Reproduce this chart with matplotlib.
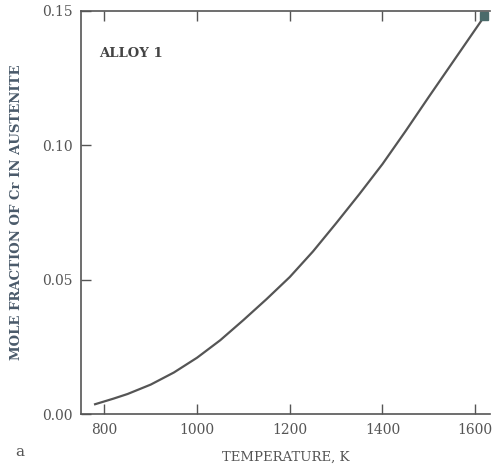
import numpy as np
import matplotlib.pyplot as plt

temp = [780, 820, 850, 900, 950, 1000, 1050, 1100, 1150, 1200, 1250, 1300,
        1350, 1400, 1450, 1500, 1560, 1620]
x_cr = [0.0037, 0.0058, 0.0075, 0.011, 0.0155, 0.021, 0.0275, 0.035, 0.0428,
        0.051, 0.0605, 0.071, 0.0818, 0.093, 0.1053, 0.118, 0.133, 0.148]
end_t = [1620]
end_x = [0.148]

xticks = [800, 1000, 1200, 1400, 1600]
yticks = [0.00, 0.05, 0.10, 0.15]

ink = '#555555'
plt.rcParams['font.family'] = ['DejaVu Serif']

fig = plt.figure(figsize=(4.92, 4.68), dpi=100)
ax = fig.add_axes([0.165, 0.115, 0.831, 0.862])

ax.plot(temp, x_cr, color=ink, lw=1.6)
ax.plot(end_t, end_x, 's', color='#4a6a6a', ms=6)

ax.set_xlim(750, 1632)
ax.set_ylim(0, 0.15)
ax.set_xticks(xticks)
ax.set_yticks(yticks)
ax.set_yticklabels(['%.2f' % v for v in yticks])
ax.tick_params(direction='in', length=7, width=1, colors=ink, labelsize=10,
               top=True, right=False, pad=6)
ax.spines['right'].set_visible(False)
for s in ['left', 'top', 'bottom']:
    ax.spines[s].set_color(ink)
    ax.spines[s].set_linewidth(1.2)

ax.set_xlabel('TEMPERATURE, K', color=ink, fontsize=9.5, labelpad=10)
ax.set_ylabel('MOLE FRACTION OF Cr IN AUSTENITE', color='#4a5a6a', fontsize=9.5,
              fontweight='bold', labelpad=14)
ax.text(0.045, 0.885, 'ALLOY 1', transform=ax.transAxes, color='#444444',
        fontsize=9.5, fontweight='bold')
fig.text(0.03, 0.025, 'a', color=ink, fontsize=11)

fig.savefig('out.png', dpi=100)
